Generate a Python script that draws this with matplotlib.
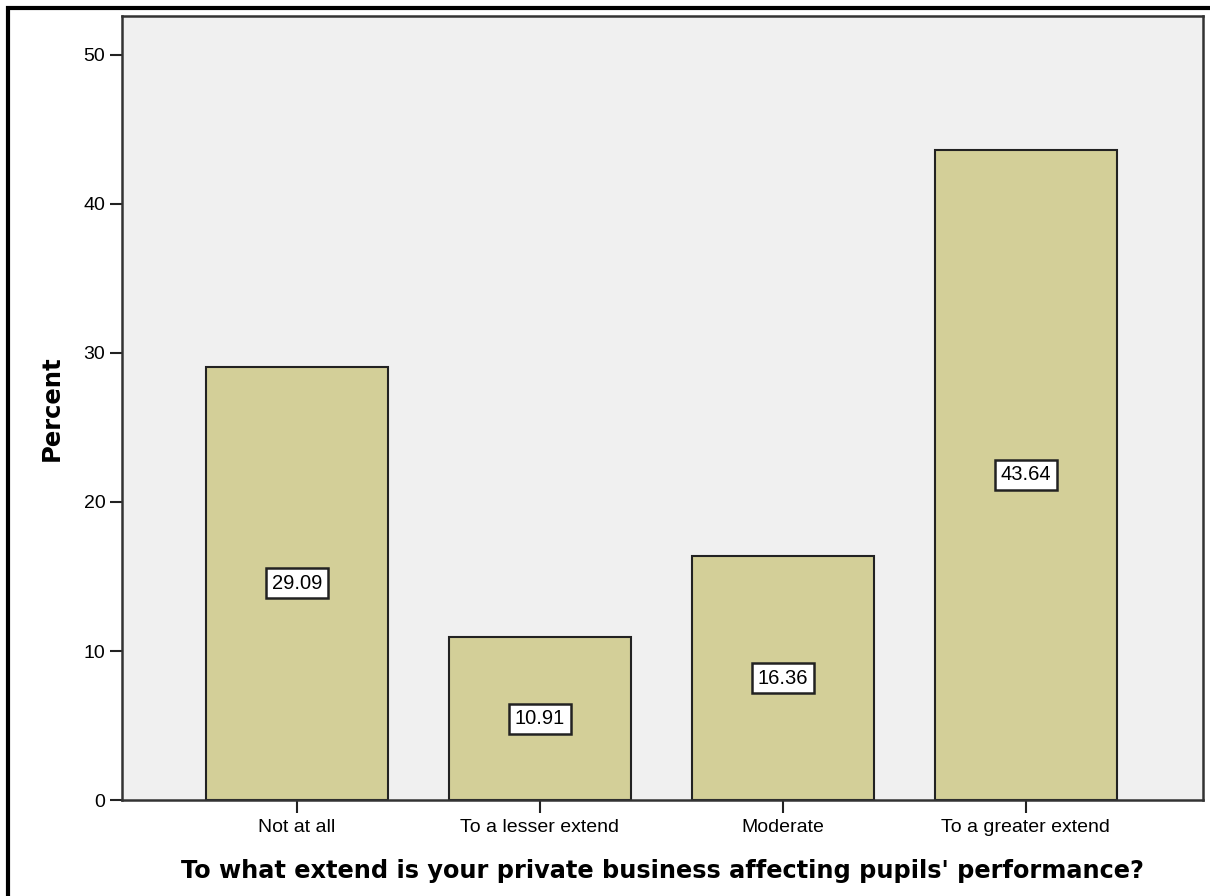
import matplotlib
matplotlib.use('Agg')
import matplotlib.pyplot as plt
from matplotlib.patches import Rectangle

categories = ["Not at all", "To a lesser extend", "Moderate", "To a greater extend"]
percents = [29.09, 10.91, 16.36, 43.64]
yticks = [0, 10, 20, 30, 40, 50]

fig = plt.figure(figsize=(12.1, 8.96), dpi=100)
ax = fig.add_axes([0.1008, 0.1071, 0.8934, 0.8749])
ax.set_facecolor('#f0f0f0')

x = range(len(categories))
ax.bar(x, percents, width=0.75, color='#d3cf98', edgecolor='#222222', linewidth=1.5, zorder=2)
for i, v in zip(x, percents):
    ax.text(i, v / 2, "%.2f" % v, ha='center', va='center', fontsize=14.5, family='Liberation Sans',
            bbox=dict(boxstyle='square,pad=0.28', fc='white', ec='#222222', lw=1.8), zorder=3)

ax.set_xlim(-0.72, 3.73)
ax.set_ylim(0, 52.6)
ax.set_yticks(yticks)
ax.set_xticks(list(x))
ax.set_xticklabels(categories, fontsize=14, family='Liberation Sans')
ax.set_yticklabels([str(t) for t in yticks], fontsize=14, family='Liberation Sans')
ax.tick_params(axis='both', length=9, width=1.5, color='#222222', pad=3)
ax.tick_params(axis='x', pad=5)
for s in ax.spines.values():
    s.set_linewidth(1.8)
    s.set_color('#333333')

ax.set_ylabel("Percent", fontsize=17.5, fontweight='bold', labelpad=14)
ax.set_xlabel("To what extend is your private business affecting pupils' performance?",
              fontsize=17.3, fontweight='bold', labelpad=16)

fig.patches.append(Rectangle((8 / 1210, -0.01), 1.02, 1 - 8 / 896 + 0.01, transform=fig.transFigure,
                             fill=False, ec='black', lw=3))

fig.savefig("out.png", dpi=100)
